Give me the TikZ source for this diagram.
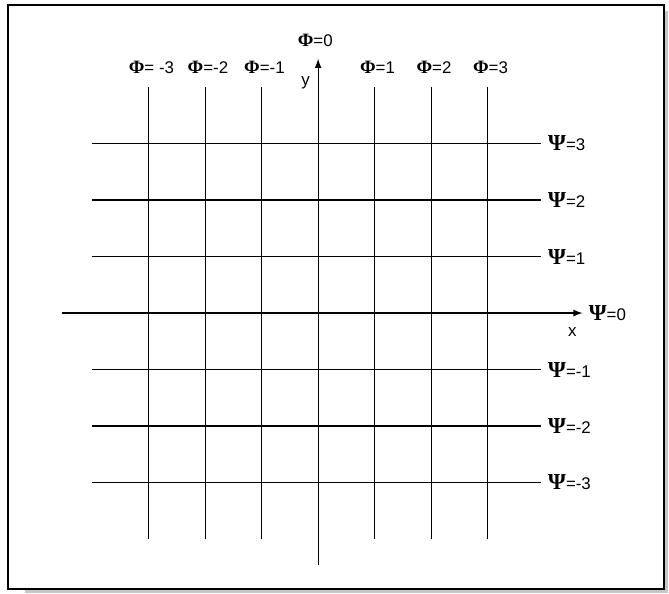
\documentclass[tikz,border=0pt]{standalone}
\usepackage{fontspec}
\setmainfont{Liberation Sans}
\newfontfamily\greekfont{Liberation Serif}
\newcommand{\phisym}{{\greekfont\fontsize{9.5}{10}\selectfont\textbf{Φ}}}
\newcommand{\psisym}{{\greekfont\fontsize{11.5}{13}\selectfont\textbf{Ψ}}}

\begin{document}
\begin{tikzpicture}[scale=1.0,
  gridline/.style={line width=0.6pt},
  axisline/.style={line width=0.6pt,-latex},
  lbl/.style={font=\fontsize{8.5}{9}\selectfont,inner sep=1pt}]
\useasboundingbox (-5.63,-4.97) rectangle (6.21,5.54);
% frame with shadow
\fill[gray!45] (-5.19,-4.96) rectangle (6.19,5.35);
\draw[line width=1.1pt,fill=white] (-5.49,-4.88) rectangle (6.12,5.45);

% grid
\foreach \k in {-3,-2,-1,1,2,3} {
\draw[gridline] (\k,-4) -- (\k,4);
\draw[gridline] (-4,\k) -- (3.95,\k);
}

% axes
\draw[axisline] (-4.53,0) -- (4.68,0) coordinate (xend);
\draw[axisline] (0,-4.46) -- (0,4.5) coordinate (yend);
\node[lbl] (xlbl) at (4.5,-0.33) {x};
\node[lbl] (ylbl) at (-0.22,4.07) {y};

% labels Phi
\foreach \k/\t in {-3/= -3,-2/=-2,-1/=-1,1/=1,2/=2,3/=3} {
\node[lbl] (phi\k) at (\k+0.05,4.34) {\phisym\t};
}
\node[lbl] (phi0) at (-0.05,4.83) {\phisym=0};

% labels Psi
\foreach \k in {-3,-2,-1,1,2,3} {
\node[lbl,anchor=west] (psi\k) at (4.03,\k) {\psisym=\k};
}
\node[lbl,anchor=west] (psi0) at (4.75,0) {\psisym=0};

\end{tikzpicture}
\end{document}
